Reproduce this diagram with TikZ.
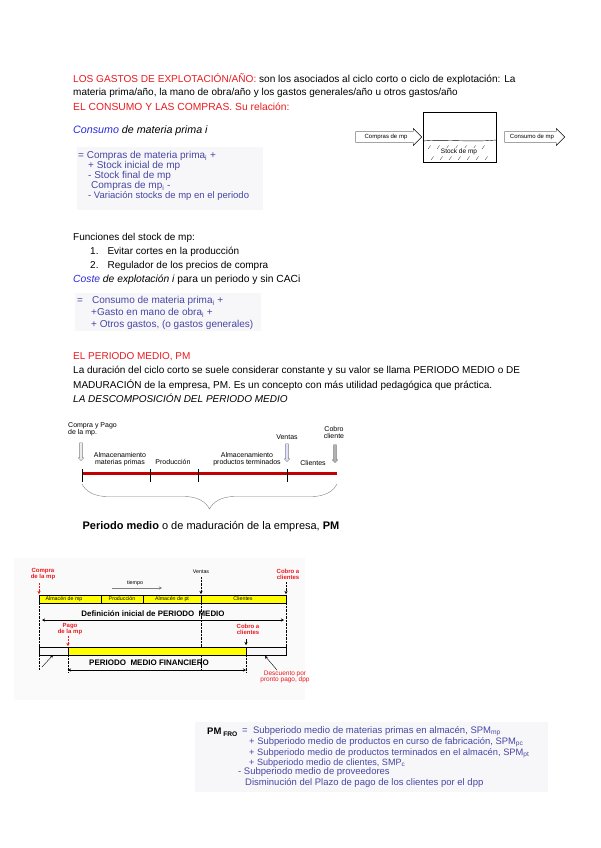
\documentclass[tikz,border=0pt]{standalone}
\usepackage{fontspec}
\setmainfont{Liberation Sans}
\usetikzlibrary{positioning,arrows.meta,shapes.arrows,decorations.pathreplacing}

\definecolor{titred}{RGB}{235,25,30}
\definecolor{keyblue}{RGB}{40,40,225}
\definecolor{formblue}{RGB}{70,70,165}
\definecolor{boxgray}{RGB}{247,247,249}
\definecolor{barred}{RGB}{195,0,0}
\definecolor{padyellow}{RGB}{255,255,0}

\newcommand{\fsz}[1]{\fontsize{#1}{#1}\selectfont}

\begin{document}
\begin{tikzpicture}[x=1pt,y=-1pt,
  every node/.style={font=\fsz{10}, inner sep=0pt},
  txt/.style={anchor=west},
  redtxt/.style={anchor=west,text=titred},
  formula/.style={anchor=west,text=formblue,font=\fsz{10}},
  tiny/.style={font=\fsz{7},align=center},
  small/.style={font=\fsz{5.3}},
  redlbl/.style={font=\bfseries\fsz{6},text=titred,align=center},
  blockarrow/.style={single arrow,draw,fill=white,font=\fsz{6},
    inner xsep=1pt,inner ysep=2.5pt,single arrow head extend=3pt},
  downarrow/.style={single arrow,draw=gray,shape border rotate=270,
    minimum height=18pt,inner sep=1.2pt,single arrow head extend=1.6pt},
  tick/.style={black,thin},
  dotline/.style={densely dotted,thin},
  stealth/.style={-{Stealth[length=3pt,width=3pt]}},
  twohead/.style={{Stealth[length=3pt,width=3pt]}-{Stealth[length=3pt,width=3pt]},thick}
]
\useasboundingbox (0,0) rectangle (600,848);

% ------------------------------------------------------------
% Gastos de explotacion
% ------------------------------------------------------------
\node[txt,font=\fsz{10.1}] (l1) at (73,79) {\textcolor{titred}{LOS GASTOS DE EXPLOTACIÓN/AÑO:} son los asociados al ciclo corto o ciclo de explotación: La};
\node[txt] (l2) at (73,93) {materia prima/año, la mano de obra/año y los gastos generales/año u otros gastos/año};
\node[redtxt,font=\fsz{10.3}] (l3) at (73,107) {EL CONSUMO Y LAS COMPRAS. Su relación:};

\node[txt,font=\itshape\fsz{10.7}] (cons) at (73,131) {\textcolor{keyblue}{Consumo} de materia prima i};

\fill[boxgray] (77,147) rectangle (263,210);
\node[formula] (f1) at (78,156) {= Compras de materia prima\textsubscript{i} +};
\node[formula] (f2) at (88,166) {+ Stock inicial de mp};
\node[formula] (f3) at (88,176) {- Stock final de mp};
\node[formula] (f4) at (91,186) {Compras de mp\textsubscript{i} -};
\node[formula,font=\fsz{9.5}] (f5) at (88,196) {- Variación stocks de mp en el periodo};

% ------------------------------------------------------------
% Deposito de materia prima
% ------------------------------------------------------------
\node[draw,minimum width=73pt,minimum height=50pt] (tank) at (459.5,137) {};
\node[blockarrow,minimum height=66pt] (buy) at (386,137) {Compras de mp};
\node[blockarrow,minimum height=60pt] (use) at (532,137) {Consumo de mp};
\draw (tank.west |- 0,141) .. controls (445,139) and (470,142.5) .. (tank.east |- 0,140);
\foreach \hx in {428,437,...,490} \draw[very thin] (\hx,149) -- ++(2.5,-3.5);
\foreach \hx in {431,440,...,491} \draw[very thin] (\hx,160) -- ++(2.5,-3.5);
\node[font=\fsz{6.5},fill=white,inner sep=0.6pt] (stk) at (459,152) {Stock de mp};

% ------------------------------------------------------------
% Funciones del stock y coste de explotacion
% ------------------------------------------------------------
\node[txt] (fun) at (73,238) {Funciones del stock de mp:};
\node[txt] (n1) at (90,252) {1.\hspace{9pt}Evitar cortes en la producción};
\node[txt] (n2) at (90,266) {2.\hspace{9pt}Regulador de los precios de compra};
\node[txt,font=\fsz{10.3}] (cost) at (73,280) {\itshape\textcolor{keyblue}{Coste} de explotación i \upshape para un periodo y sin CACi};

\fill[boxgray] (75,293) rectangle (261,331);
\node[formula] (g1) at (77,301) {=\hspace{9pt}Consumo de materia prima\textsubscript{i} +};
\node[formula] (g2) at (91,313) {+Gasto en mano de obra\textsubscript{i} +};
\node[formula] (g3) at (91,325) {+ Otros gastos, (o gastos generales)};

% ------------------------------------------------------------
% Periodo medio
% ------------------------------------------------------------
\node[redtxt] (pm) at (73,357) {EL PERIODO MEDIO, PM};
\node[txt] (p1) at (73,371) {La duración del ciclo corto se suele considerar constante y su valor se llama PERIODO MEDIO o DE};
\node[txt] (p2) at (73,385) {MADURACIÓN de la empresa, PM. Es un concepto con más utilidad pedagógica que práctica.};
\node[txt,font=\itshape\fsz{10}] (p3) at (73,398) {LA DESCOMPOSICIÓN DEL PERIODO MEDIO};

% ------------------------------------------------------------
% Linea de tiempo del periodo medio
% ------------------------------------------------------------
\coordinate (t0) at (82,473);
\coordinate (t1) at (150,473);
\coordinate (t2) at (198,473);
\coordinate (t3) at (287,473);
\coordinate (t4) at (337,473);
\draw[barred,line width=3pt] (t0) -- (t4);
\foreach \t in {t0,t1,t2,t3} \draw[tick] (\t) ++(0,-4) -- ++(0,13);

\node[tiny,anchor=west,align=left] (buypay) at (68,429) {Compra y Pago\\de la mp.};
\node[downarrow,fill=gray!15] (dn1) at (81,451) {};
\node[tiny] (ven) at (287,437) {Ventas};
\node[downarrow,fill=blue!12] (dn2) at (287,452) {};
\node[tiny] (cob) at (334,432) {Cobro\\cliente};
\node[downarrow,fill=gray!60] (dn3) at (335,453) {};

\node[tiny] (amp) at (120,459) {Almacenamiento\\materias primas};
\node[tiny] (prod) at (173,462) {Producción};
\node[tiny] (apt) at (247,459) {Almacenamiento\\productos terminados};
\node[tiny] (cli) at (313,463) {Clientes};

\draw[gray,decorate,decoration={brace,mirror,amplitude=25pt}] (82,484) -- (337,484);
\node[font=\fsz{11}] (pmlbl) at (211,527) {\textbf{Periodo medio} o de maduración de la empresa, \textbf{PM}};

% ------------------------------------------------------------
% Periodo medio financiero
% ------------------------------------------------------------
\fill[gray!4] (14,558) rectangle (305,700);

\node[redlbl] (cmp) at (43,574) {Compra\\de la mp};
\node[small] (vnt) at (201,572) {Ventas};
\node[redlbl] (cbr) at (288,574) {Cobro a\\clientes};
\node[small] (tmp) at (135,583) {tiempo};
\draw[stealth,gray] (112,588) -- (162,588);

\draw[fill=padyellow] (39,595) rectangle (286,603);
\foreach \dx in {101,143,201} \draw (\dx,595) -- (\dx,603);
\node[small] (alm) at (64,599) {Almacén de mp};
\node[small] (prd) at (122,599) {Producción};
\node[small] (apt2) at (172,599) {Almacén de pt};
\node[small] (cls) at (243,599) {Clientes};

\draw[dotline,titred,stealth] (39,583) -- (39,594);
\draw[dotline,stealth] (201,577) -- (201,594);
\draw[dotline,stealth] (286,582) -- (286,594);
\draw[dotline] (39,603) -- (39,647);
\draw[dotline] (286,603) -- (286,647);
\draw[dotline] (201,603) -- (201,670);

\node[font=\bfseries\fsz{7.9}] (dini) at (153,614) {Definición inicial de PERIODO\ \ MEDIO};
\draw[twohead] (42,620) -- (284,620);

\node[redlbl] (pag) at (70,629) {Pago\\de la mp};
\node[redlbl] (cbr2) at (248,629) {Cobro a\\clientes};
\draw[dotline,titred,stealth] (68,636) -- (68,646);
\draw[stealth] (246,639) -- (246,645);

\draw[fill=gray!6] (39,647) rectangle (286,655);
\draw[fill=padyellow] (68,647) rectangle (246,655);
\draw[dotline] (39,655) -- (39,670);
\draw[dotline] (68,655) -- (68,672);
\draw[dotline] (246,655) -- (246,672);

\node[font=\bfseries\fsz{8}] (pmf) at (149,663) {PERIODO\ \ MEDIO FINANCIERO};
\draw[twohead] (68,670) -- (246,670);

\node[font=\fsz{6.5},text=titred,align=center] (dpp) at (285,677) {Descuento por\\pronto pago, dpp};
\draw[stealth] (42,667) -- (53,655);
\draw[stealth] (277,670) -- (265,656);

% ------------------------------------------------------------
% Formula del periodo medio financiero
% ------------------------------------------------------------
\fill[boxgray] (195,722) rectangle (548,792);
\node[txt,font=\bfseries\fsz{9.5}] (pmfro) at (207,732) {PM\textsubscript{ FRO}};
\node[formula,font=\fsz{9.5}] (h1) at (242,731) {=\ \ Subperiodo medio de materias primas en almacén, SPM\textsubscript{mp}};
\node[formula,font=\fsz{9.4}] (h2) at (249,742) {+ Subperiodo medio de productos en curso de fabricación, SPM\textsubscript{pc}};
\node[formula,font=\fsz{9.3}] (h3) at (249,753) {+ Subperiodo medio de productos terminados en el almacén, SPM\textsubscript{pt}};
\node[formula,font=\fsz{9.1}] (h4) at (249,763) {+ Subperiodo medio de clientes, SMP\textsubscript{c}};
\node[formula,font=\fsz{9.5}] (h5) at (238,772) {- Subperiodo medio de proveedores};
\node[formula,font=\fsz{9.5}] (h6) at (245,783) {Disminución del Plazo de pago de los clientes por el dpp};

\end{tikzpicture}
\end{document}
